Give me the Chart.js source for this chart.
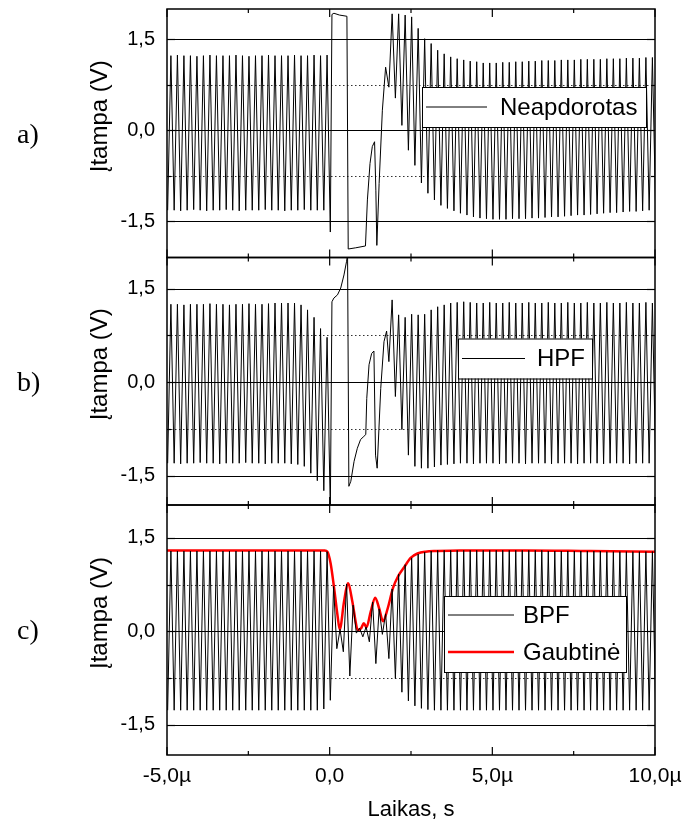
<!DOCTYPE html>
<html>
<head>
<meta charset="utf-8">
<script src="https://cdn.jsdelivr.net/npm/chart.js@4.4.1/dist/chart.umd.min.js"></script>
<style>
  body { margin: 0; background: #fff; }
  #wrap { position: relative; width: 683px; height: 824px; }
  canvas { position: absolute; left: 0; }
</style>
</head>
<body>
<div id="wrap">
  <canvas id="chart-a" width="683" height="262" style="top:0"></canvas>
  <canvas id="chart-b" width="683" height="262" style="top:250px"></canvas>
  <canvas id="chart-c" width="683" height="326" style="top:498px"></canvas>
</div>
<script>
// Three stacked oscilloscope traces: raw signal, HPF, BPF + envelope.
// The carrier is stored as its crests and troughs (one every half period);
// null = no regular crest there, the trace follows the *Event points instead.

const PERIOD    = 0.2;    // µs
const PEAK_T0   = -4.88;  // first crest
const TROUGH_T0 = -4.98;  // first trough

const X_TICKS  = [-5, 0, 5, 10];
const X_MINOR  = [-2.5, 2.5, 7.5];
const X_LABELS = ['-5,0µ', '0,0', '5,0µ', '10,0µ'];
const Y_TICKS  = [-1.5, 0, 1.5];
const Y_MINOR  = [-0.75, 0.75];
const Y_LABELS = ['-1,5', '0,0', '1,5'];

// ── a) Neapdorotas ───────────────────────────────────────────────────────────
const aPeaks = [
  1.23, 1.24, 1.23, 1.23, 1.22, 1.23, 1.24, 1.23, 1.23, 1.23,
  1.24, 1.23, 1.22, 1.23, 1.23, 1.24, 1.23, 1.23, 1.23, 1.24,
  1.23, 1.23, 1.24, 1.23, 1.24,
  null, null, null, null, null, null, null, null, null,
  1.92, 1.92, 1.90, 1.87, 1.68, 1.51, 1.43, 1.32, 1.26, 1.21,
  1.18, 1.16, 1.14, 1.13, 1.11, 1.11, 1.11, 1.12, 1.12, 1.13,
  1.13, 1.14, 1.14, 1.15, 1.15, 1.15, 1.16, 1.16, 1.16, 1.17,
  1.17, 1.17, 1.17, 1.18, 1.18, 1.18, 1.19, 1.19, 1.19, 1.20,
  1.20
];
const aTroughs = [
  -1.32, -1.32, -1.33, -1.32, -1.31, -1.32, -1.33, -1.32, -1.32, -1.31,
  -1.32, -1.33, -1.32, -1.32, -1.32, -1.31, -1.32, -1.32, -1.33, -1.32,
  -1.32, -1.31, -1.32, -1.32, -1.32, -1.68,
  null, null, null, null, null, null, null, null, null,
  0.53, 0.08, -0.33, -0.58, -0.87, -1.04, -1.15, -1.24, -1.29, -1.33,
  -1.37, -1.40, -1.43, -1.45, -1.46, -1.47, -1.47, -1.47, -1.46, -1.46,
  -1.46, -1.45, -1.45, -1.44, -1.43, -1.43, -1.42, -1.41, -1.40, -1.40,
  -1.39, -1.38, -1.37, -1.36, -1.36, -1.35, -1.34, -1.34, -1.33, -1.32,
  -1.32
];
const aEvent = [
  [0.07, 1.91], [0.13, 1.93], [0.30, 1.90], [0.53, 1.88], [0.57, -1.96],
  [0.80, -1.94], [1.10, -1.91], [1.16, -1.15], [1.24, -0.55], [1.31, -0.27],
  [1.38, -0.19], [1.42, -1.00], [1.45, -1.90], [1.52, -0.88], [1.62, 0.33],
  [1.72, 1.04], [1.82, 0.71]
];

// ── b) HPF ───────────────────────────────────────────────────────────────────
const bPeaks = [
  1.25, 1.25, 1.24, 1.25, 1.25, 1.25, 1.26, 1.25, 1.25, 1.24,
  1.25, 1.25, 1.26, 1.25, 1.25, 1.26, 1.27, 1.27, 1.27, 1.27,
  1.24, 1.16, 1.04, 0.86, 0.72,
  null, null, null, null, null, null, null, null, null,
  1.32, 1.08, 1.04, 1.09, 1.08, 1.09, 1.16, 1.21, 1.24, 1.27,
  1.28, 1.29, 1.28, 1.27, 1.27, 1.28, 1.27, 1.27, 1.28, 1.27,
  1.27, 1.28, 1.27, 1.27, 1.28, 1.27, 1.27, 1.28, 1.27, 1.27,
  1.28, 1.27, 1.27, 1.28, 1.27, 1.27, 1.28, 1.27, 1.27, 1.28,
  1.27
];
const bTroughs = [
  -1.30, -1.30, -1.31, -1.30, -1.30, -1.29, -1.30, -1.30, -1.31, -1.30,
  -1.30, -1.30, -1.29, -1.30, -1.30, -1.31, -1.30, -1.30, -1.30, -1.31,
  -1.32, -1.35, -1.46, -1.58, -1.74, -2.05,
  null, null, null, null, null, null, null, null, null,
  -0.23, -0.76, -1.17, -1.35, -1.38, -1.38, -1.36, -1.33, -1.32, -1.31,
  -1.30, -1.30, -1.31, -1.30, -1.30, -1.30, -1.31, -1.30, -1.30, -1.30,
  -1.31, -1.30, -1.30, -1.30, -1.31, -1.30, -1.30, -1.30, -1.31, -1.30,
  -1.30, -1.30, -1.31, -1.30, -1.30, -1.30, -1.31, -1.30, -1.30, -1.30,
  -1.30
];
const bEvent = [
  [0.07, 1.29], [0.13, 1.35], [0.24, 1.40], [0.34, 1.51], [0.44, 1.72],
  [0.52, 1.94], [0.55, 2.05], [0.59, -1.67], [0.65, -1.59], [0.75, -1.27],
  [0.85, -1.06], [0.95, -0.92], [1.05, -0.87], [1.11, -0.84], [1.14, -0.26],
  [1.21, 0.28], [1.29, 0.46], [1.36, 0.50], [1.41, -1.17], [1.46, -1.38],
  [1.57, -0.10], [1.67, 0.65], [1.75, 0.82], [1.82, 0.33]
];

// ── c) BPF + Gaubtinė ────────────────────────────────────────────────────────
const cPeaks = [
  1.29, 1.29, 1.29, 1.29, 1.29, 1.29, 1.29, 1.29, 1.29, 1.29,
  1.29, 1.29, 1.29, 1.29, 1.29, 1.29, 1.29, 1.29, 1.29, 1.29,
  1.29, 1.29, 1.29, 1.29, 1.28,
  0.72, 0.03, 0.76, 0.42, 0.05, 0.07, 0.47, 0.36, 0.28, 0.68,
  0.92, 1.07, 1.18, 1.24, 1.27, 1.29,
  1.30, 1.30, 1.30, 1.30, 1.30, 1.30, 1.30, 1.30, 1.30, 1.30,
  1.30, 1.30, 1.30, 1.30, 1.30, 1.30, 1.30, 1.29, 1.29, 1.29,
  1.29, 1.29, 1.29, 1.29, 1.29, 1.29, 1.28, 1.28, 1.28, 1.28,
  1.28, 1.28, 1.28, 1.28
];
const cTroughs = [
  -1.27, -1.27, -1.27, -1.27, -1.27, -1.27, -1.27, -1.27, -1.27, -1.27,
  -1.27, -1.27, -1.27, -1.27, -1.27, -1.27, -1.27, -1.27, -1.27, -1.27,
  -1.27, -1.27, -1.27, -1.27, -1.25,
  -1.11, -0.28, -0.33, -0.72, -0.03, -0.09, -0.17, -0.52, -0.05, -0.44,
  -0.76, -0.98, -1.12, -1.20, -1.24, -1.26,
  -1.27, -1.27, -1.27, -1.27, -1.27, -1.27, -1.27, -1.27, -1.27, -1.27,
  -1.27, -1.27, -1.27, -1.27, -1.27, -1.27, -1.27, -1.27, -1.27, -1.27,
  -1.27, -1.27, -1.27, -1.27, -1.27, -1.27, -1.27, -1.27, -1.27, -1.27,
  -1.27, -1.27, -1.27, -1.27, -1.27
];
const cEnvT = [
  -5.0, -0.15, -0.07, 0.03, 0.13, 0.24, 0.31, 0.44, 0.56, 0.70,
  0.80, 0.86, 0.97, 1.05, 1.13, 1.26, 1.40, 1.52, 1.64, 1.78,
  1.95, 2.10, 2.29, 2.49, 2.70, 2.95, 3.30, 4.00, 6.00, 8.00, 10.0
];
const cEnv = [
  1.30, 1.30, 1.28, 1.09, 0.72, 0.26, 0.03, 0.47, 0.77, 0.47,
  0.15, 0.02, 0.05, 0.13, 0.06, 0.31, 0.54, 0.37, 0.16, 0.36,
  0.70, 0.88, 1.03, 1.18, 1.25, 1.28, 1.29, 1.30, 1.30, 1.29, 1.28
];

// ── helpers ──────────────────────────────────────────────────────────────────

function tracePoints(peaks, troughs, event) {
  const pts = [];
  peaks.forEach((v, k) => { if (v !== null) pts.push({ x: PEAK_T0 + k * PERIOD, y: v }); });
  troughs.forEach((v, k) => { if (v !== null) pts.push({ x: TROUGH_T0 + k * PERIOD, y: v }); });
  event.forEach(([x, y]) => pts.push({ x, y }));
  return pts.sort((p, q) => p.x - q.x);
}

const SANS = '"Liberation Sans", Arial, sans-serif';

function hline(ctx, x1, x2, y) { ctx.beginPath(); ctx.moveTo(x1, y); ctx.lineTo(x2, y); ctx.stroke(); }
function vline(ctx, x, y1, y2) { ctx.beginPath(); ctx.moveTo(x, y1); ctx.lineTo(x, y2); ctx.stroke(); }

// grid, frame, inward ticks, legend box, y title and panel letter
const panelDecor = {
  id: 'panelDecor',
  beforeDatasetsDraw(chart) {
    const { ctx, chartArea: ca, scales: { y } } = chart;
    ctx.save();
    ctx.strokeStyle = '#000';
    ctx.lineWidth = 1;
    Y_TICKS.forEach(v => hline(ctx, ca.left, ca.right, Math.round(y.getPixelForValue(v)) + 0.5));
    ctx.setLineDash([1.5, 2.5]);
    ctx.strokeStyle = '#333';
    Y_MINOR.forEach(v => hline(ctx, ca.left, ca.right, Math.round(y.getPixelForValue(v)) + 0.5));
    ctx.restore();
  },
  afterDatasetsDraw(chart, args, opts) {
    const { ctx, chartArea: ca, scales: { x, y } } = chart;
    ctx.save();

    // legend
    const lg = opts.legend;
    const lx = ca.left + lg.dx, ly = ca.top + lg.dy;
    ctx.fillStyle = '#fff';
    ctx.fillRect(lx, ly, lg.w, lg.h);
    ctx.strokeStyle = '#000';
    ctx.lineWidth = 1;
    ctx.strokeRect(lx + 0.5, ly + 0.5, lg.w, lg.h);
    ctx.font = '24px ' + SANS;
    ctx.textBaseline = 'middle';
    ctx.textAlign = 'left';
    chart.data.datasets.forEach((ds, i) => {
      const iy = ly + lg.rows[i];
      ctx.strokeStyle = ds.borderColor;
      ctx.lineWidth = ds.borderWidth;
      hline(ctx, lx + 4, lx + lg.lineEnd, iy);
      ctx.fillStyle = '#000';
      ctx.fillText(ds.label, lx + lg.textX, iy + 1);
    });

    // frame + ticks
    ctx.strokeStyle = '#000';
    ctx.lineWidth = 1.5;
    ctx.strokeRect(ca.left, ca.top, ca.right - ca.left, ca.bottom - ca.top);
    ctx.lineWidth = 1.2;
    const xt = (vals, len) => vals.forEach(v => {
      const px = x.getPixelForValue(v);
      vline(ctx, px, ca.top, ca.top + len);
      vline(ctx, px, ca.bottom, ca.bottom - len);
    });
    const yt = (vals, len) => vals.forEach(v => {
      const py = Math.round(y.getPixelForValue(v)) + 0.5;
      hline(ctx, ca.left, ca.left + len, py);
      hline(ctx, ca.right, ca.right - len, py);
    });
    xt(X_TICKS, 8); xt(X_MINOR, 4);
    yt(Y_TICKS, 8); yt(Y_MINOR, 4);

    // y title and panel letter
    const mid = (ca.top + ca.bottom) / 2;
    ctx.fillStyle = '#000';
    ctx.save();
    ctx.translate(100, mid - 17);
    ctx.rotate(-Math.PI / 2);
    ctx.textAlign = 'center';
    ctx.font = '24px ' + SANS;
    ctx.fillText('Įtampa (V)', 0, 0);
    ctx.restore();
    ctx.font = '28px "Liberation Serif", "Times New Roman", serif';
    ctx.textAlign = 'left';
    ctx.fillText(opts.letter, 17, mid + 2);
    ctx.restore();
  }
};

function makePanel(id, datasets, yMin, yMax, pad, decor, showX) {
  return new Chart(document.getElementById(id), {
    type: 'line',
    data: { datasets },
    plugins: [panelDecor],
    options: {
      responsive: false,
      animation: false,
      events: [],
      layout: { padding: { left: 0, right: 28, top: pad.top, bottom: pad.bottom } },
      elements: { point: { radius: 0 } },
      plugins: {
        legend: { display: false },
        tooltip: { enabled: false },
        panelDecor: decor
      },
      scales: {
        x: {
          type: 'linear',
          min: -5,
          max: 10,
          display: showX,
          grid: { display: false, drawTicks: false },
          border: { display: false },
          afterBuildTicks: s => { s.ticks = X_TICKS.map(v => ({ value: v })); },
          afterFit: s => {
            s.height = showX ? 69 : 0;
            s.paddingLeft = 0; s.paddingRight = 0;
          },
          ticks: {
            color: '#000',
            padding: 9,
            maxRotation: 0,
            font: { family: SANS, size: 21 },
            callback: (v, i) => X_LABELS[i]
          },
          title: {
            display: true,
            text: 'Laikas, s',
            color: '#000',
            padding: { top: 0, bottom: 1 },
            font: { family: SANS, size: 22 }
          }
        },
        y: {
          type: 'linear',
          min: yMin,
          max: yMax,
          grid: { display: false, drawTicks: false },
          border: { display: false },
          afterBuildTicks: s => { s.ticks = Y_TICKS.map(v => ({ value: v })); },
          afterFit: s => {
            s.width = 167;
            s.paddingTop = 0; s.paddingBottom = 0;
          },
          ticks: {
            color: '#000',
            padding: 12,
            font: { family: SANS, size: 20 },
            callback: (v, i) => Y_LABELS[i]
          }
        }
      }
    }
  });
}

const traceStyle = { borderColor: '#000', borderWidth: 1, tension: 0, fill: false };

makePanel('chart-a',
  [{ label: 'Neapdorotas', data: tracePoints(aPeaks, aTroughs, aEvent), ...traceStyle }],
  -2.1, 2.0, { top: 9, bottom: 4.5 },
  { letter: 'a)', legend: { dx: 255, dy: 78, w: 224, h: 40, lineEnd: 65, textX: 78, rows: [20] } },
  false);

makePanel('chart-b',
  [{ label: 'HPF', data: tracePoints(bPeaks, bTroughs, bEvent), ...traceStyle }],
  -1.97, 2.0, { top: 7.5, bottom: 7 },
  { letter: 'b)', legend: { dx: 291, dy: 81, w: 134, h: 40, lineEnd: 67, textX: 79, rows: [20] } },
  false);

makePanel('chart-c',
  [
    { label: 'BPF', data: tracePoints(cPeaks, cTroughs, []), ...traceStyle },
    {
      label: 'Gaubtinė',
      data: cEnvT.map((t, i) => ({ x: t, y: cEnv[i] })),
      borderColor: '#ff0000',
      borderWidth: 2.5,
      cubicInterpolationMode: 'monotone',
      fill: false
    }
  ],
  -1.99, 2.03, { top: 7, bottom: 0 },
  { letter: 'c)', legend: { dx: 277, dy: 91, w: 182, h: 76, lineEnd: 70, textX: 79, rows: [19, 56] } },
  true);
</script>
</body>
</html>
